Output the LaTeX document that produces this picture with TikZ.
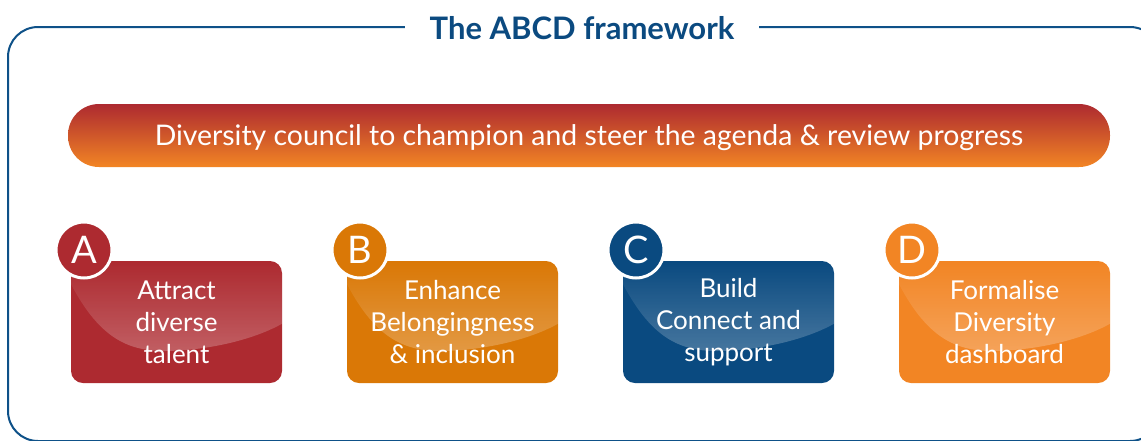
\documentclass[tikz,border=0pt]{standalone}
\usepackage{fontspec}
\setmainfont{Lato}
\usepackage{tikz}
\usetikzlibrary{fadings}

\definecolor{abcdblue}{HTML}{0B4A80}
\definecolor{framebl}{HTML}{0E5188}
\definecolor{abcdred}{HTML}{AD2A30}
\definecolor{abcdamber}{HTML}{DA7806}
\definecolor{abcdnavy}{HTML}{0A4A80}
\definecolor{abcdorange}{HTML}{F28524}

\tikzset{
  pillar/.style={rounded corners=12pt, minimum width=211pt, minimum height=122pt, inner sep=0pt,
    align=center, text=white, font=\fontsize{26}{32}\selectfont},
  badge/.style={circle, draw=white, line width=3pt, minimum size=56pt, inner sep=0pt,
    text=white, font=\fontsize{38}{38}\selectfont},
}

\begin{document}
\begin{tikzpicture}[x=1pt, y=-1pt]
      \useasboundingbox (0,0) rectangle (1141,440);
      \draw[framebl, line width=2pt, rounded corners=30pt] (8,27) rectangle (1160,441);
      \node[fill=white, inner xsep=25pt, text=abcdblue, font=\bfseries\fontsize{31}{34}\selectfont] (title) at (582,28) {The ABCD framework};

      \node[rounded corners=31pt, minimum width=1042pt, minimum height=63pt, top color=abcdred, bottom color=abcdorange,
        text=white, text height=26pt, text depth=6pt, font=\fontsize{28.4}{30}\selectfont] (council) at (589,135.5) {Diversity council to champion and steer the agenda \& review progress};

      \node[pillar, fill=abcdred] (attract) at (176.5,322) {Attract\\diverse\\talent};
      \node[pillar, fill=abcdamber] (enhance) at (452.5,322) {Enhance\\Belongingness\\\& inclusion};
      \node[pillar, fill=abcdnavy] (build) at (728.5,322) {Build\\Connect and\\support};
      \node[pillar, fill=abcdorange] (formalise) at (1004.5,322) {Formalise\\Diversity\\dashboard};

      \foreach \pname in {attract,enhance,build,formalise}{
        \begin{scope}
          \clip[rounded corners=12pt] (\pname.south west) rectangle (\pname.north east);
          \begin{scope}[shift={(\pname.north west)}]
            \fill[white, fill opacity=0.25, path fading=north] (0,0) -- (0,23) .. controls (30,80) and (60,92) .. (102,90)
              .. controls (150,88) and (190,75) .. (211,63) -- (211,0) -- cycle;
          \end{scope}
        \end{scope}
      }

      \node[badge, fill=abcdred] (a) at (84,250) {A};
      \node[badge, fill=abcdamber] (b) at (360,250) {B};
      \node[badge, fill=abcdnavy] (c) at (636,250) {C};
      \node[badge, fill=abcdorange] (d) at (912,250) {D};
    \end{tikzpicture}
\end{document}
